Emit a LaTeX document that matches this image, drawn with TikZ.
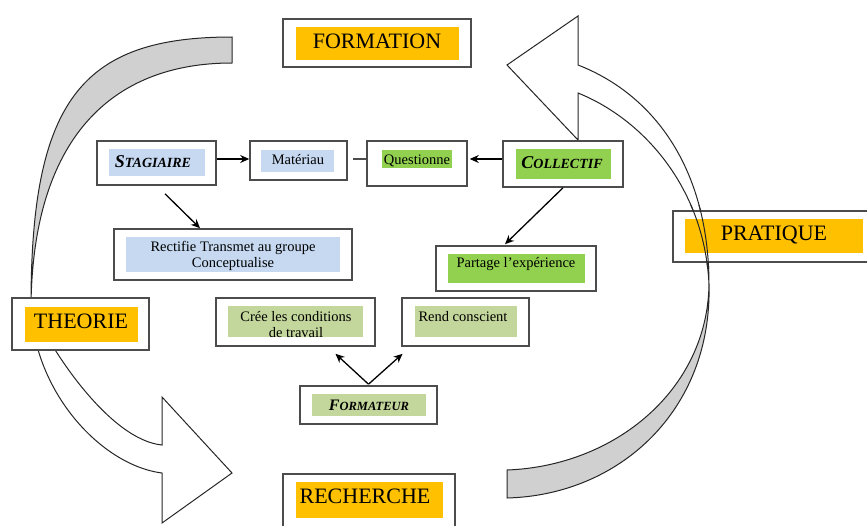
\documentclass[tikz,border=0pt]{standalone}
\usepackage{fontspec}
\setmainfont{Liberation Serif}
\usetikzlibrary{arrows.meta,calc}
\definecolor{orng}{HTML}{FFC000}
\definecolor{lblue}{HTML}{C6D9F1}
\definecolor{bgreen}{HTML}{92D050}
\definecolor{pgreen}{HTML}{C3D69B}
\definecolor{bandgray}{HTML}{D0D0D0}
\begin{document}
\begin{tikzpicture}[x=1pt,y=-1pt,
  box/.style={draw=black!70,line width=1.6pt,fill=white,rectangle,inner sep=0pt},
  arr/.style={draw=black,line width=1.3pt,-{Stealth[length=9pt,width=8pt]}},
  conn/.style={draw=black!70,line width=1.3pt},
  band/.style={draw=black!85,line width=1pt,line join=miter},
  big/.style={inner sep=0pt,font=\fontsize{22}{24}\selectfont},
  small/.style={inner sep=0pt,font=\fontsize{14.5}{17}\selectfont},
  label/.style={inner sep=0pt,font=\bfseries\itshape}]
\useasboundingbox (0,0) rectangle (867,525);
\fill[white] (0,0) rectangle (867,525);

% ---- left curved arrow (THEORIE -> RECHERCHE)
\filldraw[band,fill=bandgray] (232,37) .. controls (82,37) and (31,100) .. (31,305)
  .. controls (33,140) and (110,63) .. (232,63) -- cycle;
\filldraw[band,fill=white] (31,305) .. controls (33,390) and (100,465) .. (162,473)
  -- (162,523) -- (232,473) -- (162,397) -- (162,445)
  .. controls (110,440) and (50,350) .. (31,305) -- cycle;

% ---- right curved arrow (RECHERCHE -> PRATIQUE -> FORMATION)
\filldraw[band,fill=bandgray] (709,285) .. controls (707,390) and (615,466) .. (507,470)
  -- (507,498) .. controls (620,495) and (712,410) .. (709,285) -- cycle;
\filldraw[band,fill=white] (578,16) -- (507,65) -- (578,140) -- (578,93)
  .. controls (645,120) and (705,190) .. (709,285)
  .. controls (709,170) and (655,95) .. (578,65) -- cycle;

% ---- boxes
\node[box,minimum width=188pt,minimum height=48pt] (formation) at (377,43) {};
\node[box,minimum width=119pt,minimum height=44pt] (stag) at (156.5,163) {};
\node[box,minimum width=97pt,minimum height=39pt] (mat) at (298.5,160.5) {};
\node[box,minimum width=100pt,minimum height=45pt] (quest) at (417,163.5) {};
\node[box,minimum width=120pt,minimum height=46pt] (coll) at (563,164) {};
\node[box,minimum width=238pt,minimum height=51pt] (rect) at (233,254.5) {};
\node[box,minimum width=160pt,minimum height=45pt] (part) at (516,268.5) {};
\node[box,minimum width=207pt,minimum height=51pt] (prat) at (776.5,236.5) {};
\node[box,minimum width=137pt,minimum height=52pt] (theo) at (80.5,324) {};
\node[box,minimum width=159pt,minimum height=48pt] (cree) at (295.5,322) {};
\node[box,minimum width=127pt,minimum height=48pt] (rend) at (465.5,322) {};
\node[box,minimum width=137pt,minimum height=38pt] (fmtr) at (368.5,405) {};
\node[box,minimum width=172pt,minimum height=66pt] (rech) at (369,507) {};

% ---- inner colour fills
\fill[orng] (296,27) rectangle (459,60);
\fill[lblue] (109,149) rectangle (205,176);
\fill[lblue] (261,150) rectangle (334,172);
\fill[bgreen] (382,150) rectangle (452,168);
\fill[bgreen] (516,149) rectangle (611,179);
\fill[lblue] (126,237) rectangle (340,272);
\fill[bgreen] (448,254) rectangle (585,283);
\fill[orng] (685,219) rectangle (863,253);
\fill[orng] (25,307) rectangle (138,342);
\fill[pgreen] (228,306) rectangle (363,337);
\fill[pgreen] (415,306) rectangle (517,337);
\fill[pgreen] (312,394) rectangle (426,416);
\fill[orng] (296,482) rectangle (443,518);

% ---- right arrow outline seen across the PRATIQUE box
\begin{scope}
\clip (673,205) rectangle (867,268);
\draw[band] (578,93) .. controls (645,120) and (705,190) .. (709,285);
\draw[band] (709,285) .. controls (709,170) and (655,95) .. (578,65);
\draw[band] (709,285) .. controls (707,390) and (615,466) .. (507,470);
\draw[band] (507,498) .. controls (620,495) and (712,410) .. (709,285);
\end{scope}

% ---- texts
\node[big,anchor=base] (tformation) at (377,48) {FORMATION};
\node[big,anchor=base] (tprat) at (774,240) {PRATIQUE};
\node[big,anchor=base] (ttheo) at (81,328) {THEORIE};
\node[big,anchor=base] (trech) at (365,503) {RECHERCHE};
\node[label,anchor=base] (tstag) at (153,167) {\fontsize{18}{18}\selectfont S\fontsize{14}{14}\selectfont TAGIAIRE};
\node[label,anchor=base] (tcoll) at (562,168) {\fontsize{18}{18}\selectfont C\fontsize{14}{14}\selectfont OLLECTIF};
\node[label,anchor=base] (tfmtr) at (369,410) {\fontsize{16}{16}\selectfont F\fontsize{12.5}{12.5}\selectfont ORMATEUR};
\node[small,anchor=base] (tmat) at (298,164) {Matériau};
\node[small,anchor=base] (tquest) at (417,164) {Questionne};
\node[small,anchor=base] (trect1) at (233,251) {Rectifie Transmet au groupe};
\node[small,anchor=base] (trect2) at (233,267) {Conceptualise};
\node[small,anchor=base] (tpart) at (516,267) {Partage l’expérience};
\node[small,anchor=base] (tcree1) at (296,321) {Crée les conditions};
\node[small,anchor=base] (tcree2) at (296,337) {de travail};
\node[small,anchor=base] (trend) at (463,321) {Rend conscient};

% ---- connectors
\draw[arr] (stag.east |- 0,159) -- (mat.west |- 0,159);
\draw[conn] ([xshift=5pt]mat.east |- 0,159) -- (quest.west |- 0,159);
\draw[arr] (coll.west |- 0,159) -- ([xshift=2pt]quest.east |- 0,159);
\draw[arr] ($(stag.south)+(8.5,8)$) -- ($(rect.north)+(-33,0)$);
\draw[arr] (coll.south) -- ($(part.north)+(-11,-1)$);
\coordinate (fsplit) at ($(fmtr.north)+(0,-1)$);
\draw[arr] (fsplit) -- ($(cree.south)+(40,7)$);
\draw[arr] (fsplit) -- ($(rend.south)+(-63,7)$);
\end{tikzpicture}
\end{document}
